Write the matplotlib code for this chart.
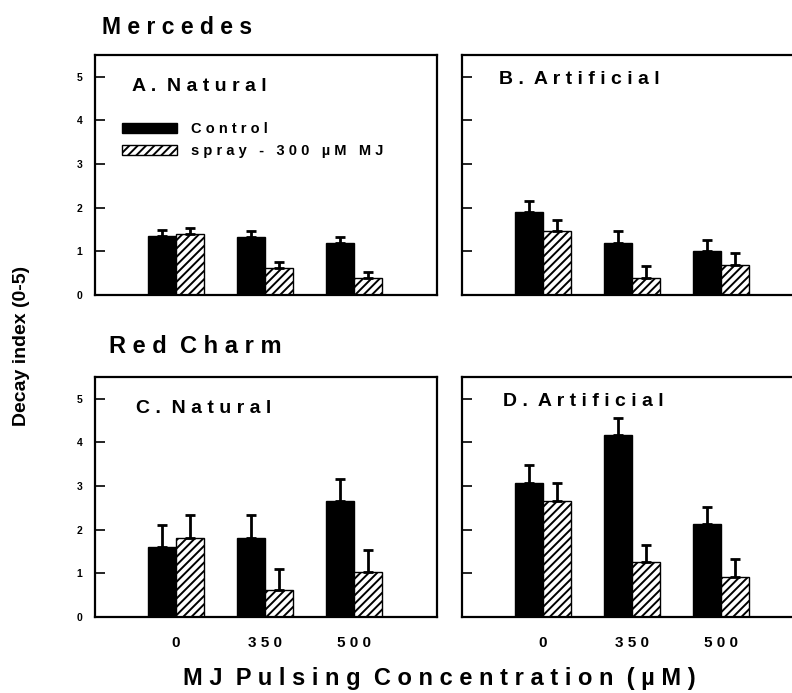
import numpy as np
import matplotlib
matplotlib.use("Agg")
import matplotlib.pyplot as plt

plt.rcParams["font.family"] = ["Liberation Sans", "DejaVu Sans"]
plt.rcParams["font.weight"] = "bold"
plt.rcParams["hatch.linewidth"] = 1.4

# ------------------------------------------------------------
# datos
# ------------------------------------------------------------
concentraciones = ["0", "350", "500"]
series = ["Control", "spray - 300 \u00b5M MJ"]

a_control = [1.36, 1.33, 1.19]
a_control_err = [0.14, 0.13, 0.14]
a_spray = [1.40, 0.62, 0.40]
a_spray_err = [0.14, 0.14, 0.13]

b_control = [1.90, 1.19, 1.00]
b_control_err = [0.25, 0.27, 0.26]
b_spray = [1.47, 0.40, 0.69]
b_spray_err = [0.26, 0.26, 0.27]

c_control = [1.60, 1.82, 2.66]
c_control_err = [0.50, 0.52, 0.51]
c_spray = [1.82, 0.61, 1.03]
c_spray_err = [0.52, 0.49, 0.50]

d_control = [3.08, 4.18, 2.12]
d_control_err = [0.40, 0.39, 0.39]
d_spray = [2.65, 1.26, 0.92]
d_spray_err = [0.41, 0.40, 0.41]


def espaciar(texto, hueco="  "):
    # letras separadas como en la figura original
    return hueco.join(" ".join(p) for p in texto.split(" "))


W, H = 792, 693
fig = plt.figure(figsize=(W / 100, H / 100), dpi=100)


def crear_ejes(left, top, right, bottom):
    return fig.add_axes([left / W, 1 - bottom / H, (right - left) / W, (bottom - top) / H])


ax_a = crear_ejes(95, 55, 437, 295)
ax_b = crear_ejes(462, 55, 804, 295)
ax_c = crear_ejes(95, 377, 437, 617)
ax_d = crear_ejes(462, 377, 804, 617)

paneles = [
    (ax_a, "A. Natural", a_control, a_control_err, a_spray, a_spray_err, True, False),
    (ax_b, "B. Artificial", b_control, b_control_err, b_spray, b_spray_err, False, False),
    (ax_c, "C. Natural", c_control, c_control_err, c_spray, c_spray_err, True, True),
    (ax_d, "D. Artificial", d_control, d_control_err, d_spray, d_spray_err, False, True),
]

x = np.arange(1, len(concentraciones) + 1)
w = 0.315

for ax, titulo, ctrl, ctrl_err, spr, spr_err, ylab, xlab in paneles:
    ax.bar(x - w / 2, ctrl, w, color="black", edgecolor="black", linewidth=1,
           label=espaciar(series[0]))
    ax.bar(x + w / 2, spr, w, color="white", edgecolor="black", linewidth=1,
           hatch="////", label=espaciar(series[1], "   "))
    ax.errorbar(x - w / 2, ctrl, yerr=[np.zeros(3), ctrl_err], fmt="none",
                ecolor="black", elinewidth=2, capsize=3.5, capthick=2)
    ax.errorbar(x + w / 2, spr, yerr=[np.zeros(3), spr_err], fmt="none",
                ecolor="black", elinewidth=2, capsize=3.5, capthick=2)

    ax.set_xlim(0.09, 0.09 + 342 / 89)
    ax.set_ylim(0, 5.5)
    ax.set_yticks([0, 1, 2, 3, 4, 5])
    ax.tick_params(axis="y", direction="in", length=7, width=1.2, labelsize=7.5, pad=9)
    ax.tick_params(axis="x", length=0, labelsize=11, pad=14)
    for s in ax.spines.values():
        s.set_linewidth(1.6)

    if not ylab:
        ax.set_yticklabels([])
    if xlab:
        ax.set_xticks(x)
        ax.set_xticklabels([espaciar(c) for c in concentraciones])
    else:
        ax.set_xticks([])

    pos_y = 0.87 if "Natural" in titulo else 0.9
    pos_x = 0.108 if ax in (ax_a, ax_b) else 0.12
    ax.text(pos_x, pos_y, espaciar(titulo), transform=ax.transAxes,
            fontsize=14, fontweight="bold", va="center", ha="left")

ax_a.legend(loc="upper left", bbox_to_anchor=(0.079, 0.72), frameon=False, fontsize=10.5,
            handlelength=3.8, handleheight=0.6, handletextpad=0.9, labelspacing=0.55,
            borderaxespad=0, borderpad=0)

# textos generales
fig.text(102 / W, 1 - 27 / H, espaciar("Mercedes"), fontsize=16.5, fontweight="bold",
         va="center", ha="left")
fig.text(109 / W, 1 - 347 / H, espaciar("Red Charm"), fontsize=17, fontweight="bold",
         va="center", ha="left")
fig.text(22 / W, 1 - 346 / H, "Decay index (0-5)", fontsize=14, fontweight="bold",
         rotation=90, va="center", ha="center")
fig.text(439 / W, 1 - 678 / H, espaciar("MJ Pulsing Concentration (\u00b5M)"),
         fontsize=17, fontweight="bold", va="center", ha="center")

fig.savefig("out.png", dpi=100)
